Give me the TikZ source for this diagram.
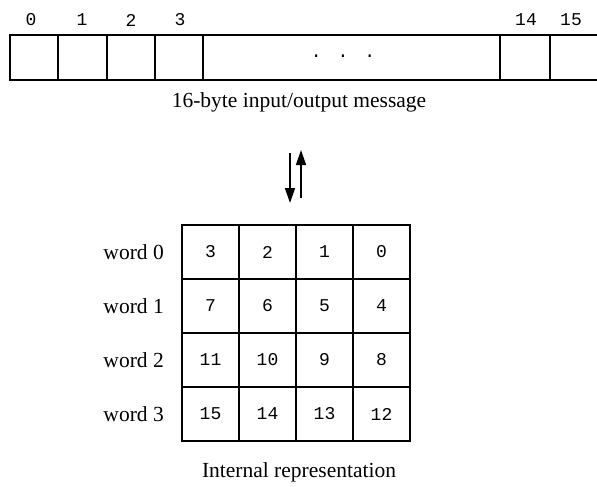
\documentclass[tikz,border=0pt]{standalone}
\usepackage{fontspec}
\setmainfont{Liberation Serif}
\setmonofont{Liberation Mono}
\usetikzlibrary{arrows.meta}
\begin{document}
\begin{tikzpicture}[x=1pt,y=-1pt,
  boxline/.style={line width=1.6pt},
  cell/.style={draw,line width=1.6pt,minimum width=57pt,minimum height=54pt,inner sep=0pt,font=\fontsize{18}{20}\ttfamily},
  idx/.style={font=\fontsize{18}{20}\ttfamily,inner sep=0pt},
  captext/.style={font=\fontsize{21.5}{25}\selectfont,inner sep=0pt},
  wordlab/.style={font=\fontsize{21.5}{25}\selectfont,inner sep=0pt,anchor=east},
  arr/.style={line width=1.5pt,-{Triangle[length=15pt,width=10pt]}}]
\useasboundingbox (0,0) rectangle (597,487);
% top message bar
\coordinate (tl) at (10,35);
\coordinate (bl) at (10,80);
\coordinate (tr) at (597,35);
\coordinate (br) at (597,80);
\draw[boxline] (tr) -- (tl) -- (bl) -- (br);
\foreach \x in {58,107,155,203,500,550}{\draw[boxline] (\x,35) -- (\x,80);}
\foreach \x/\l in {31/0,82/1,131/2,180/3,526/14,571/15}{\node[idx] (i\l) at (\x,20) {\l};}
\node[idx] (dots) at (343,56) {.\hspace{16pt}.\hspace{16pt}.};
\node[captext] (msg) at (299,102) {16-byte input/output message};
% arrows
\coordinate (d1) at (290,153);
\coordinate (d2) at (290,203);
\coordinate (u1) at (301,198);
\coordinate (u2) at (301,150);
\draw[arr] (d1) -- (d2);
\draw[arr] (u1) -- (u2);
% grid
\foreach \r in {0,1,2,3}{
  \foreach \c in {0,1,2,3}{
    \pgfmathtruncatemacro{\v}{4*\r+3-\c}
    \node[cell] (g\r\c) at ({210.5+57*\c},{252+54*\r}) {\v};
  }
  \node[wordlab] (w\r) at (164,{252+54*\r}) {word \r};
}
\node[captext] (internal) at (299,472) {Internal representation};
\end{tikzpicture}
\end{document}
